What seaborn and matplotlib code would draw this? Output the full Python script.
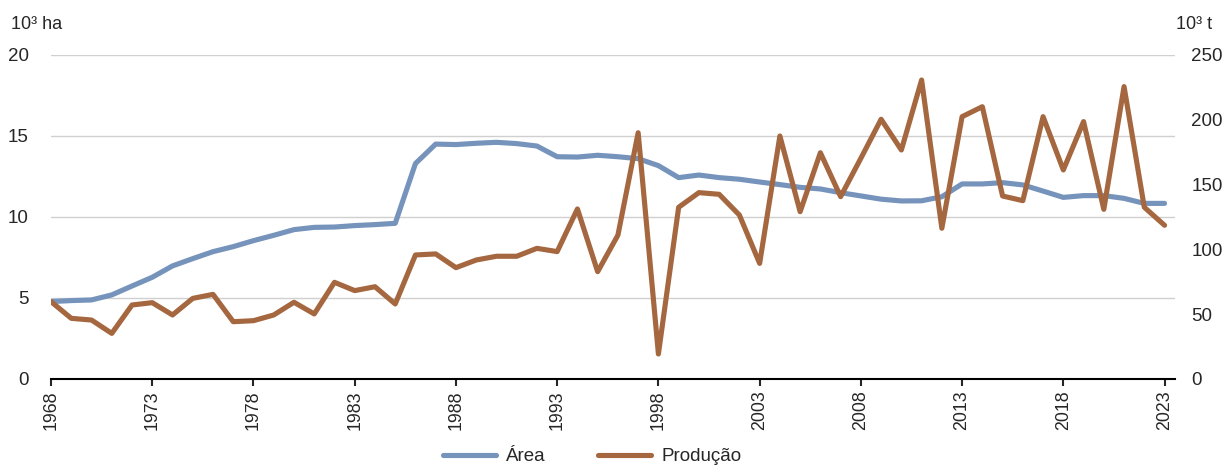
import pandas as pd
import matplotlib.pyplot as plt
import seaborn as sns

years = list(range(1968, 2024))

# Área (10^3 ha)
area = [4.78, 4.84, 4.88, 5.19, 5.74, 6.28, 6.98, 7.43, 7.86, 8.17,
        8.54, 8.87, 9.22, 9.36, 9.38, 9.47, 9.53, 9.61, 13.3, 14.5,
        14.47, 14.55, 14.61, 14.53, 14.38, 13.72, 13.7, 13.81, 13.72, 13.6,
        13.17, 12.43, 12.59, 12.43, 12.33, 12.16, 12.0, 11.83, 11.73, 11.5,
        11.3, 11.1, 10.99, 11.0, 11.25, 12.04, 12.04, 12.12, 11.98, 11.6,
        11.21, 11.32, 11.32, 11.15, 10.84, 10.84]

# Produção (10^3 t)
producao = [59.7, 46.8, 45.5, 35.2, 57.1, 58.9, 49.4, 62.2, 65.3, 44.2,
            45.0, 49.4, 59.2, 50.2, 74.6, 68.2, 71.2, 57.9, 95.7, 96.5,
            85.9, 91.8, 94.7, 94.7, 100.8, 98.3, 131.2, 82.8, 111.0, 190.0,
            19.3, 132.5, 143.8, 142.5, 126.5, 89.2, 187.5, 129.1, 174.6, 140.7,
            170.3, 200.4, 176.7, 230.7, 116.3, 202.4, 210.1, 141.2, 137.6, 202.4,
            161.3, 198.6, 130.9, 225.6, 132.5, 118.6]

df = pd.DataFrame({"Ano": years, "Área": area, "Produção": producao})

sns.set_style("white")
plt.rcParams["font.family"] = ["Liberation Sans", "DejaVu Sans"]

blue = "#7593bb"
brown = "#a5673f"

fig = plt.figure(figsize=(12.24, 4.66), dpi=100)
ax = fig.add_axes([0.0417, 0.1867, 0.918, 0.6953])
ax2 = ax.twinx()

sns.lineplot(data=df, x="Ano", y="Área", ax=ax, color=blue, linewidth=3.7,
             label="Área", legend=False)
sns.lineplot(data=df, x="Ano", y="Produção", ax=ax2, color=brown, linewidth=3.7,
             label="Produção", legend=False)

ax.set_xlim(1968, 2023.5)
ax.set_ylim(0, 20)
ax2.set_ylim(0, 250)
ax.set_yticks([0, 5, 10, 15, 20])
ax2.set_yticks([0, 50, 100, 150, 200, 250])
ax.set_xticks(list(range(1968, 2024, 5)))
ax.tick_params(axis="x", rotation=90, labelsize=12.8, length=5, width=1.5,
               direction="out", bottom=True, pad=3)
ax.tick_params(axis="y", labelsize=13.5, length=0, pad=16)
ax2.tick_params(axis="y", labelsize=13.5, length=0, pad=12)

ax.grid(axis="y", color="#d0d0d0", linewidth=1)
ax.set_axisbelow(True)
for a in (ax, ax2):
    for s in ("left", "right", "top"):
        a.spines[s].set_visible(False)
    a.spines["bottom"].set_linewidth(1.5)
    a.spines["bottom"].set_color("black")
    a.set_xlabel("")
    a.set_ylabel("")
ax2.spines["bottom"].set_visible(False)

fig.text(0.009, 0.948, "10³ ha", fontsize=13, ha="left", va="center")
fig.text(0.990, 0.948, "10³ t", fontsize=13, ha="right", va="center")

h1, l1 = ax.get_legend_handles_labels()
h2, l2 = ax2.get_legend_handles_labels()
fig.legend(h1 + h2, l1 + l2, loc="lower center", ncol=2, frameon=False,
           fontsize=13.5, bbox_to_anchor=(0.484, -0.035), handlelength=2.8,
           handletextpad=0.55, columnspacing=2.8)

fig.savefig("out.png", dpi=100)
